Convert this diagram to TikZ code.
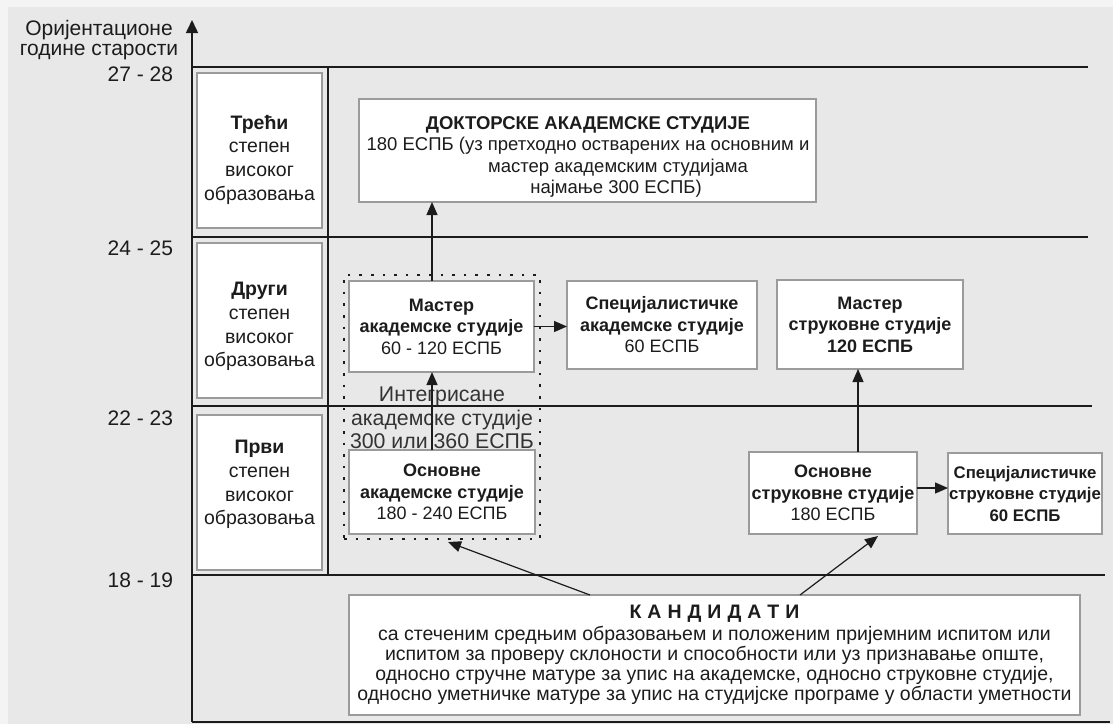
\documentclass[tikz,border=0pt]{standalone}
\usepackage{fontspec}
\setmainfont{Liberation Sans}
\usetikzlibrary{arrows.meta,calc}
\definecolor{bg}{RGB}{232,232,232}
\definecolor{margin}{RGB}{244,244,244}
\definecolor{ink}{RGB}{28,28,28}
\definecolor{frame}{RGB}{155,155,155}
\begin{document}
\begin{tikzpicture}[x=1pt,y=-1pt,
  box/.style={draw=frame, fill=white, line width=1.1pt, inner sep=0pt, outer sep=0pt, align=center, text=ink},
  lvlbox/.style={box, minimum width=125pt, minimum height=155pt},
  rule/.style={draw=ink, line width=1.8pt},
  arr/.style={draw=ink, line width=1.2pt, -{Triangle[length=13pt,width=11pt]}},
  axisline/.style={draw=ink, line width=1.6pt, -{Triangle[length=13pt,width=12pt]}},
  txt/.style={text=ink, inner sep=0pt, outer sep=0pt, align=center},
  lab/.style={txt, font=\fontsize{21}{20}\selectfont},
  lvltext/.style={txt, font=\fontsize{19.5}{23.7}\selectfont},
  boxfont/.style={font=\fontsize{18}{21.5}\selectfont},
  smallbox/.style={font=\fontsize{16.8}{21.5}\selectfont},
  dotframe/.style={draw=ink, line width=2.6pt, dash pattern=on 2.6pt off 9pt, inner sep=0pt, outer sep=0pt},
]
\useasboundingbox (0,0) rectangle (1113,724);
\fill[margin] (0,0) rectangle (1113,724);
\fill[bg] (8,7) rectangle (1113,724);

% axis and level rules
\coordinate (orig) at (192,722);
\coordinate (ytop) at (192,20);
\coordinate (bend) at (1110,722);
\draw[rule] (orig) -- (bend);
\draw[rule] (192,67) -- (1088,67);
\draw[rule] (192,237) -- (1088,237);
\draw[rule] (192,406) -- (1092,406);
\draw[rule] (192,575) -- (1105,575);
\draw[rule] (328,67) -- (328,575);
\draw[axisline] (orig) -- (ytop);

% axis labels
\node[lab] (ylab) at (99,40) {Оријентационе\\године старости};
\node[lab, anchor=east] (a27) at (173,74) {27 - 28};
\node[lab, anchor=east] (a24) at (173,248) {24 - 25};
\node[lab, anchor=east] (a22) at (173,418) {22 - 23};
\node[lab, anchor=east] (a18) at (173,580) {18 - 19};

% level boxes
\node[lvlbox] (l3) at (259.5,150.5) {};
\node[lvlbox] (l2) at (259.5,320.5) {};
\node[lvlbox] (l1) at (259.5,492.5) {};
\node[lvltext] (l3t) at (259.5,159.5) {\textbf{Трећи}\\степен\\високог\\образовања};
\node[lvltext] (l2t) at (259.5,326.5) {\textbf{Други}\\степен\\високог\\образовања};
\node[lvltext] (l1t) at (259.5,484.5) {\textbf{Први}\\степен\\високог\\образовања};

% doctoral
\node[box, minimum width=457pt, minimum height=103pt] (doc) at (587.5,150.5) {};
\node[txt, font=\fontsize{18.5}{21.5}\selectfont] (doct) at (588,157) {\textbf{ДОКТОРСКЕ АКАДЕМСКЕ СТУДИЈЕ}\\180 ЕСПБ (уз претходно остварених на основним и\\\hspace*{60pt}мастер академским студијама\\\hspace*{56pt}најмање 300 ЕСПБ)};

% integrated frame
\node[dotframe, minimum width=196pt, minimum height=264pt] (intg) at (442,407) {};

% academic boxes
\node[box, boxfont, minimum width=185pt, minimum height=91pt] (mas) at (441.5,326.5) {\textbf{Мастер}\\\textbf{академске студије}\\60 - 120 ЕСПБ};
\node[box, boxfont, minimum width=190pt, minimum height=88pt] (spa) at (662,325) {\textbf{Специјалистичке}\\\textbf{академске студије}\\60 ЕСПБ};
\node[box, boxfont, minimum width=186pt, minimum height=84pt] (osa) at (442,492) {\textbf{Основне}\\\textbf{академске студије}\\180 - 240 ЕСПБ};

% professional boxes
\node[box, boxfont, minimum width=186pt, minimum height=89pt] (ms) at (870,324.5) {\textbf{Мастер}\\\textbf{струковне студије}\\\textbf{120 ЕСПБ}};
\node[box, boxfont, minimum width=168pt, minimum height=82pt] (oss) at (833,493) {\textbf{Основне}\\\textbf{струковне студије}\\180 ЕСПБ};
\node[box, smallbox, minimum width=154pt, minimum height=81pt] (sps) at (1025,493.5) {\textbf{Специјалистичке}\\\textbf{струковне студије}\\\textbf{60 ЕСПБ}};

% candidates
\node[box, font=\fontsize{19.5}{19.9}\selectfont, minimum width=731pt, minimum height=120pt] (kand) at (714.5,655) {\textbf{К\hspace{6pt}А\hspace{6pt}Н\hspace{6pt}Д\hspace{6pt}И\hspace{6pt}Д\hspace{6pt}А\hspace{6pt}Т\hspace{6pt}И}\\[2pt]са стеченим средњим образовањем и положеним пријемним испитом или\\испитом за проверу склоности и способности или уз признавање опште,\\односно стручне матуре за упис на академске, односно струковне студије,\\односно уметничке матуре за упис на студијске програме у области уметности};

% integrated text
\node[txt, text=ink!90, font=\fontsize{21.3}{23.5}\selectfont] (intgt) at (442,418) {Интегрисане\\академске студије\\300 или 360 ЕСПБ};

% connectors
\coordinate (ax) at (432,0);
\coordinate (sx) at (858,0);
\coordinate (sy) at (0,488);
\draw[arr] (mas.north -| ax) -- (doc.south -| ax);
\draw[arr] (osa.north -| ax) -- (mas.south -| ax);
\draw[arr] (mas.east) -- (mas.east -| spa.west);
\draw[arr] (oss.north -| sx) -- (ms.south -| sx);
\draw[arr] (oss.east |- sy) -- (sps.west |- sy);
\draw[arr] ($(kand.north)+(-124.5,0)$) -- ($(intg.south)+(6,3)$);
\draw[arr] ($(kand.north)+(85.5,0)$) -- ($(oss.south)+(45,2)$);
\end{tikzpicture}
\end{document}
